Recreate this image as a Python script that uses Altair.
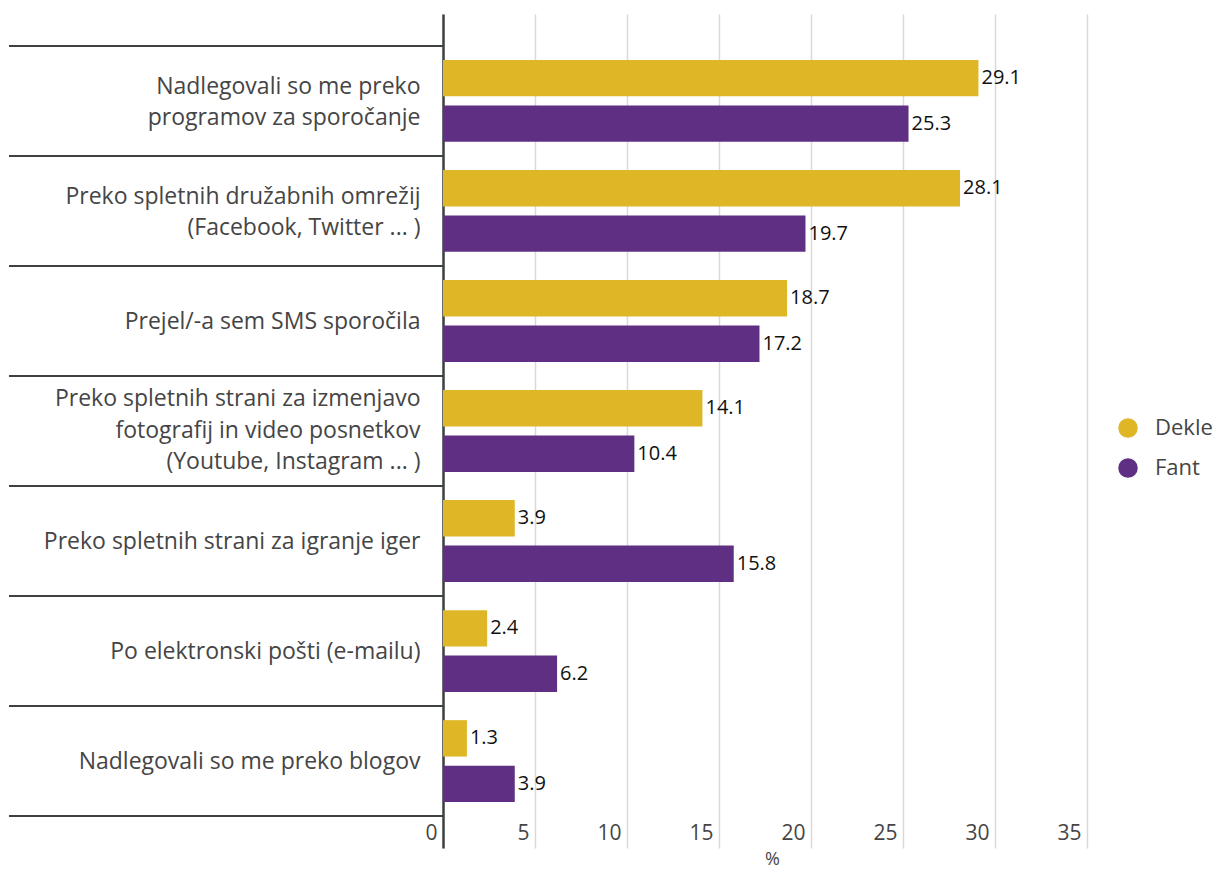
import altair as alt
import pandas as pd

categories = [
    "Nadlegovali so me preko |programov za sporočanje",
    "Preko spletnih družabnih omrežij|(Facebook, Twitter ... )",
    "Prejel/-a sem SMS sporočila ",
    "Preko spletnih strani za izmenjavo|fotografij in video posnetkov|(Youtube, Instagram ... )",
    "Preko spletnih strani za igranje iger",
    "Po elektronski pošti (e-mailu)",
    "Nadlegovali so me preko blogov",
]
dekle = [29.1, 28.1, 18.7, 14.1, 3.9, 2.4, 1.3]
fant = [25.3, 19.7, 17.2, 10.4, 15.8, 6.2, 3.9]
series = ["Dekle", "Fant"]
colors = ["#dfb626", "#5e2f82"]
x_ticks = [0, 5, 10, 15, 20, 25, 30, 35]

rows = []
for c, d, f in zip(categories, dekle, fant):
    rows.append({"cat": c, "group": "Dekle", "value": d})
    rows.append({"cat": c, "group": "Fant", "value": f})
df = pd.DataFrame(rows)
cat_df = pd.DataFrame({"cat": categories})
last_df = pd.DataFrame({"cat": categories[-1:]})

FONT = "Open Sans"
TEXT = "#454545"
DARK = "#3d4141"

n_lines = "length(split(datum.label, '|'))"
y_scale = alt.Scale(domain=categories, paddingInner=0, paddingOuter=0.29)
y_axis = alt.Axis(
    domain=True, domainColor=DARK, domainWidth=2.5, ticks=False, grid=False,
    labelFont=FONT, labelFontSize=23, labelColor=TEXT, labelPadding=23,
    labelLimit=0, labelLineHeight=31.5, labelExpr="split(datum.label, '|')",
    labelOffset={
        "condition": [
            {"test": n_lines + " == 3", "value": -32},
            {"test": n_lines + " == 2", "value": -14},
        ],
        "value": 1,
    },
    minExtent=434, maxExtent=434, title=None,
)
x_scale = alt.Scale(domain=[0, 35], nice=False)
x_axis = alt.Axis(
    values=x_ticks, grid=True, gridColor="#d9d9d9", gridWidth=1.5,
    domain=False, ticks=False, format="d",
    labelFont=FONT, labelFontSize=21, labelColor=TEXT, labelAlign="right",
    labelOffset=-6, labelBaseline="middle", labelPadding=-15, labelFlush=False,
    labelOverlap=False,
    titleFont=FONT, titleFontSize=18, titleColor=TEXT, titleFontWeight="normal",
    titleX=329, titleY=11, titleBaseline="middle", titleAlign="center",
)

y_enc = alt.Y("cat:N", scale=y_scale, sort=categories, axis=y_axis, title=None)
yoff = alt.YOffset("group:N", sort=series,
                   scale=alt.Scale(domain=series, paddingInner=0.2, paddingOuter=0.31))
x_enc = alt.X("value:Q", scale=x_scale, axis=x_axis, title="%")

bars = alt.Chart(df).mark_bar().encode(
    y=y_enc, yOffset=yoff, x=x_enc,
    color=alt.Color(
        "group:N", scale=alt.Scale(domain=series, range=colors),
        legend=alt.Legend(
            title=None, orient="none", legendX=674, legendY=403,
            symbolType="circle", symbolSize=380, symbolStrokeWidth=0,
            labelFont=FONT, labelFontSize=22, labelColor=TEXT,
            labelOffset=16, rowPadding=18, padding=0,
        ),
    ),
)

labels = alt.Chart(df).mark_text(
    align="left", dx=3, baseline="middle", fontSize=20, font=FONT, color="#111111"
).encode(
    y=y_enc, yOffset=yoff, x=x_enc,
    text=alt.Text("value:Q", format=".1f"),
)

seps = alt.Chart(cat_df).mark_rule(color=DARK, strokeWidth=2).encode(
    y=alt.Y("cat:N", bandPosition=0, scale=y_scale, sort=categories, axis=y_axis, title=None),
    x=alt.value(-434), x2=alt.value(0),
)
sep_last = alt.Chart(last_df).mark_rule(color=DARK, strokeWidth=2).encode(
    y=alt.Y("cat:N", bandPosition=1, scale=y_scale, sort=categories, axis=y_axis, title=None),
    x=alt.value(-434), x2=alt.value(0),
)

chart = alt.layer(bars, labels, seps, sep_last).properties(
    width=644, height=834,
    padding={"left": 0, "top": 6, "right": 2, "bottom": 0},
).configure_view(stroke=None)

chart.save("out.html", embed_options={"renderer": "svg", "actions": False})
